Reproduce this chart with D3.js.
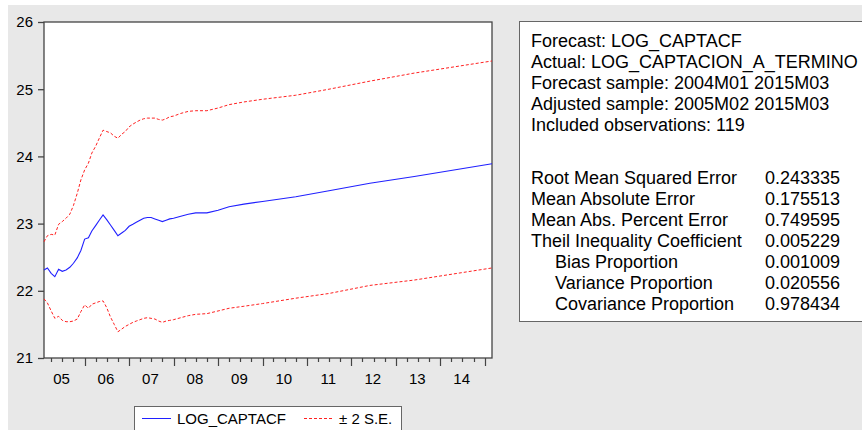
<!DOCTYPE html>
<meta charset="utf-8">
<style>
body { margin: 0; background: #fff; }
text { font-family: "Liberation Sans", Arial, sans-serif; fill: #000; }
</style>
<body>
<script src="https://cdn.jsdelivr.net/npm/d3@7"></script>
<script>

// months (sample 2005M02 - 2015M03)
var months = ["2005-02","2005-03","2005-04","2005-05","2005-06","2005-07","2005-08","2005-09",
  "2005-10","2005-11","2005-12","2006-01","2006-02","2006-03","2006-04","2006-05","2006-06",
  "2006-07","2006-08","2006-09","2006-10","2006-11","2006-12","2007-01","2007-02","2007-03",
  "2007-04","2007-05","2007-06","2007-07","2007-08","2007-09","2007-10","2007-11","2007-12",
  "2008-01","2008-03","2008-05","2008-07","2008-10","2009-01","2009-04","2009-08","2010-01",
  "2010-10","2011-07","2012-06","2013-06","2015-03"];

var forecast = [22.31,22.34,22.26,22.21,22.32,22.29,22.31,22.35,22.41,22.49,22.60,22.77,22.79,
  22.89,22.97,23.05,23.13,23.06,22.98,22.90,22.82,22.86,22.90,22.96,22.99,23.02,23.05,23.08,
  23.09,23.09,23.07,23.05,23.03,23.05,23.07,23.08,23.11,23.14,23.16,23.16,23.20,23.25,23.29,
  23.33,23.40,23.49,23.60,23.70,23.89];

var upper = [22.73,22.82,22.84,22.83,22.99,23.03,23.08,23.14,23.27,23.45,23.65,23.80,23.90,
  24.05,24.15,24.27,24.39,24.37,24.35,24.30,24.27,24.33,24.37,24.44,24.48,24.51,24.54,24.56,
  24.57,24.57,24.57,24.55,24.54,24.56,24.59,24.60,24.64,24.67,24.68,24.68,24.72,24.77,24.81,
  24.85,24.91,25.00,25.12,25.24,25.42];

var lower = [21.88,21.82,21.70,21.59,21.62,21.56,21.54,21.54,21.55,21.58,21.69,21.79,21.74,
  21.80,21.82,21.84,21.85,21.75,21.61,21.50,21.39,21.43,21.47,21.50,21.53,21.55,21.57,21.59,
  21.60,21.59,21.58,21.55,21.53,21.55,21.56,21.57,21.60,21.63,21.65,21.66,21.70,21.74,21.77,
  21.81,21.89,21.96,22.08,22.16,22.34];

var yTicks = [21, 22, 23, 24, 25, 26];
var yearLabels = [2005, 2006, 2007, 2008, 2009, 2010, 2011, 2012, 2013, 2014];

var infoLines = ["Forecast: LOG_CAPTACF", "Actual: LOG_CAPTACION_A_TERMINO",
  "Forecast sample: 2004M01 2015M03", "Adjusted sample: 2005M02 2015M03",
  "Included observations: 119"];
var statNames = ["Root Mean Squared Error", "Mean Absolute Error", "Mean Abs. Percent Error",
  "Theil Inequality Coefficient", "Bias Proportion", "Variance Proportion", "Covariance Proportion"];
var statValues = ["0.243335", "0.175513", "0.749595", "0.005229", "0.001009", "0.020556", "0.978434"];
var statIndent = [0, 0, 0, 0, 1, 1, 1];

var W = 862, H = 430;
var parse = d3.timeParse("%Y-%m");
var dates = months.map(parse);

var svg = d3.select("body").append("svg")
    .attr("width", W)
    .attr("height", H);

svg.append("rect")
    .attr("x", 8).attr("y", 5)
    .attr("width", W - 8).attr("height", H - 5)
    .attr("fill", "#e8e8e8");

var x = d3.scaleTime()
    .domain([dates[0], dates[dates.length - 1]])
    .range([44, 492]);

var y = d3.scaleLinear()
    .domain([21, 26])
    .range([358, 22]);

// plot frame
svg.append("rect")
    .attr("x", 44).attr("y", 22)
    .attr("width", 448).attr("height", 336)
    .attr("fill", "#fff")
    .attr("stroke", "#444")
    .attr("stroke-width", 1.3);

// y axis
var yAxis = svg.append("g")
    .attr("transform", "translate(44,0)")
    .call(d3.axisLeft(y).tickValues(yTicks).tickSize(6).tickPadding(5).tickFormat(d3.format("d")));
yAxis.select(".domain").remove();
yAxis.selectAll("line").attr("stroke", "#444").attr("stroke-width", 1.3);
yAxis.selectAll("text").style("font-size", "15px").attr("fill", "#000");

// x axis: quarterly ticks, longer at january
var quarters = d3.timeMonth.every(3).range(dates[0], d3.timeDay.offset(dates[dates.length - 1], 1));
svg.append("g").selectAll("line")
  .data(quarters)
  .enter().append("line")
    .attr("x1", function(d) { return Math.round(x(d)) + 0.5; })
    .attr("x2", function(d) { return Math.round(x(d)) + 0.5; })
    .attr("y1", 358)
    .attr("y2", function(d) { return d.getMonth() === 0 ? 366 : 362; })
    .attr("stroke", "#444")
    .attr("stroke-width", 1.2);

svg.append("g").selectAll("text")
  .data(yearLabels)
  .enter().append("text")
    .attr("x", function(d) { return x(new Date(d, 5, 25)); })
    .attr("y", 384)
    .attr("text-anchor", "middle")
    .style("font-size", "15px")
    .text(function(d) { return d3.format("02d")(d % 100); });

// series
function series(vals) {
  return dates.map(function(d, i) { return { date: d, v: vals[i] }; });
}
var line = d3.line()
    .x(function(d) { return x(d.date); })
    .y(function(d) { return y(d.v); });

[upper, lower].forEach(function(s) {
  svg.append("path")
      .datum(series(s))
      .attr("d", line)
      .attr("fill", "none")
      .attr("stroke", "#ff2020")
      .attr("stroke-width", 1)
      .attr("stroke-dasharray", "3,2");
});

svg.append("path")
    .datum(series(forecast))
    .attr("d", line)
    .attr("fill", "none")
    .attr("stroke", "#2020ff")
    .attr("stroke-width", 1.1);

// legend
var legend = svg.append("g");
legend.append("rect")
    .attr("x", 134.5).attr("y", 406.5)
    .attr("width", 267).attr("height", 40)
    .attr("fill", "#fff")
    .attr("stroke", "#666");
legend.append("line")
    .attr("x1", 142).attr("x2", 171).attr("y1", 418.5).attr("y2", 418.5)
    .attr("stroke", "#2020ff");
legend.append("text")
    .attr("x", 177).attr("y", 424)
    .style("font-size", "15px")
    .text("LOG_CAPTACF");
legend.append("line")
    .attr("x1", 304).attr("x2", 333).attr("y1", 418.5).attr("y2", 418.5)
    .attr("stroke", "#ff2020")
    .attr("stroke-dasharray", "3,2");
legend.append("text")
    .attr("x", 339).attr("y", 424)
    .style("font-size", "15px")
    .text("\u00b1 2 S.E.");

// statistics box
var box = svg.append("g");
box.append("rect")
    .attr("x", 519.5).attr("y", 21.5)
    .attr("width", 360).attr("height", 300)
    .attr("fill", "#fff")
    .attr("stroke", "#666");

box.selectAll(".info")
  .data(infoLines)
  .enter().append("text")
    .attr("class", "info")
    .attr("x", 531)
    .attr("y", function(d, i) { return 47 + i * 21; })
    .style("font-size", "18px")
    .text(function(d) { return d; });

box.selectAll(".stat")
  .data(statNames)
  .enter().append("text")
    .attr("class", "stat")
    .attr("x", function(d, i) { return statIndent[i] ? 555 : 531; })
    .attr("y", function(d, i) { return 184 + i * 21; })
    .style("font-size", "18px")
    .text(function(d) { return d; });

box.selectAll(".val")
  .data(statValues)
  .enter().append("text")
    .attr("class", "val")
    .attr("x", 765)
    .attr("y", function(d, i) { return 184 + i * 21; })
    .style("font-size", "18px")
    .text(function(d) { return d; });

</script>
